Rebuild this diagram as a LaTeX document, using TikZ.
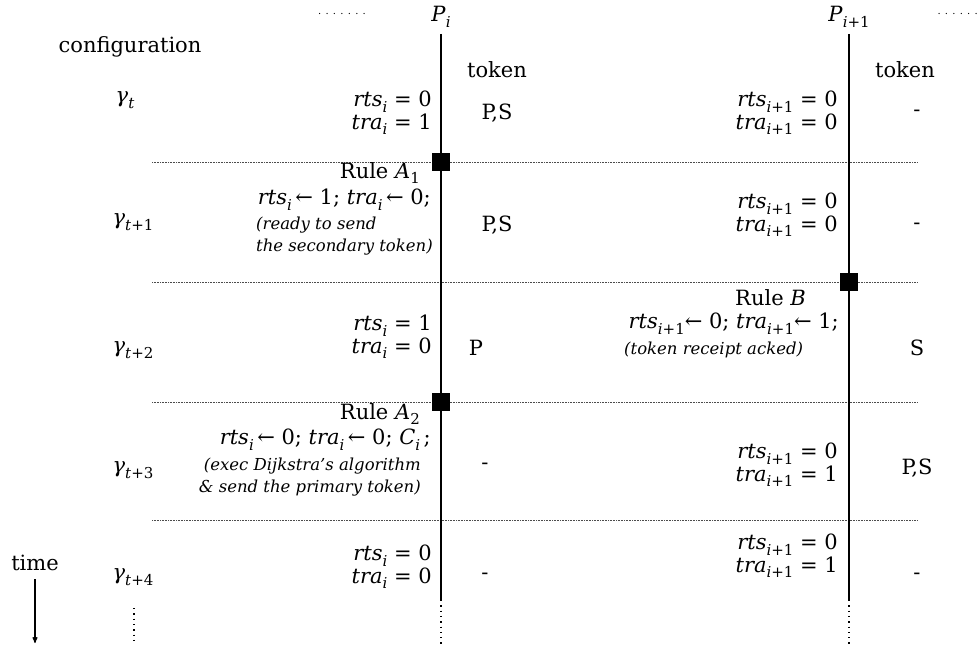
\documentclass[tikz,border=0pt]{standalone}
\usepackage{fontspec}
\setmainfont{DejaVu Serif}
\usetikzlibrary{arrows,positioning}
% subscript and variable with subscript
\newcommand{\sub}[1]{\raisebox{-0.28em}{\fontsize{15}{15}\selectfont #1}}
\newcommand{\vr}[2]{\textit{#1}\sub{#2}}
\tikzset{
    %Define standard arrow tip
    >=stealth',
    %Define style for plain text
    txt/.style={
           inner sep=0pt,
           font=\fontsize{21}{24}\selectfont},
    %Define style for variable values
    vals/.style={
           txt,
           anchor=east,
           align=right,
           font=\fontsize{21}{20}\selectfont},
    %Define style for comments
    cmt/.style={
           inner sep=0pt,
           font=\fontsize{16.5}{21.5}\selectfont\itshape},
    %Define style for rule steps
    rulebox/.style={
           rectangle,
           fill=black,
           minimum size=18pt,
           inner sep=0pt},
    %Define style for the dots beside the processes
    more/.style={
           inner sep=0pt,
           font=\fontsize{10}{12}\selectfont},
    % Define line styles
    proc/.style={line width=1.6pt},
    sep/.style={densely dotted, line width=0.6pt, black!70},
    trail/.style={line width=1.3pt, dash pattern=on 1.3pt off 4pt}
}
\begin{document}
\begin{tikzpicture}[x=1pt,y=-1pt]
\useasboundingbox (0,0) rectangle (979,648);
 %headers
\node[txt] (pi) at (441,17) {\textit{P}\sub{\textit{i}}};
\node[txt] (pj) at (849,17) {\textit{P}\sub{\textit{i}+1}};
\node[more] (dl) at (342,14) {. . . . . . .};
\node[more, anchor=east] (dr) at (978,14) {. . . . . .};
\node[txt] (conf) at (130,47) {configuration};
\node[txt] (tki) at (497,70) {token};
\node[txt] (tkj) at (905,70) {token};

 %configurations
\node[txt] (g0) at (125,100) {\textit{γ}\sub{\textit{t}}};
\node[txt] (g1) at (133,222) {\textit{γ}\sub{\textit{t}+1}};
\node[txt] (g2) at (133,350) {\textit{γ}\sub{\textit{t}+2}};
\node[txt] (g3) at (133,470) {\textit{γ}\sub{\textit{t}+3}};
\node[txt] (g4) at (133,577) {\textit{γ}\sub{\textit{t}+4}};

 %time axis
\node[txt] (time) at (35,563) {time};
\coordinate (tend) at (35,643);
\draw[->, line width=1.1pt, shorten <=8pt] (time.south) -- (tend);

 %separators
\foreach \y in {162,282,402,520}
    \draw[sep] (152,\y) -- (917,\y);

 %process lines
\coordinate (pibot) at (441,600);
\coordinate (piend) at (441,645);
\coordinate (pjbot) at (849,600);
\coordinate (pjend) at (849,645);
\coordinate (gtop) at (134,608);
\coordinate (gend) at (134,645);
\draw[proc, shorten <=6pt] (pi.south) -- (pibot);
\draw[proc, shorten <=6pt] (pj.south) -- (pjbot);
\draw[trail] (pibot) -- (piend);
\draw[trail] (pjbot) -- (pjend);
\draw[trail] (gtop) -- (gend);

 %rule steps
\node[rulebox] (ra1) at (441,162) {};
\node[rulebox] (rb) at (849,282) {};
\node[rulebox] (ra2) at (441,402) {};

 %row t
\node[vals] (v0i) at (432,113) {\vr{rts}{\textit{i}} = 0\\\vr{tra}{\textit{i}} = 1};
\node[txt] (k0i) at (497,113) {P,S};
\node[vals] (v0j) at (838,113) {\vr{rts}{\textit{i}+1} = 0\\\vr{tra}{\textit{i}+1} = 0};
\node[txt] (k0j) at (917,113) {-};

 %row t+1
\node[txt, anchor=east] (r1) at (420,173) {Rule \textit{A}\sub{1}};
\node[txt, anchor=east] (a1) at (431,200) {\vr{rts}{\textit{i}}\,← 1; \vr{tra}{\textit{i}}\,← 0;};
\node[cmt, anchor=west, align=left] (c1) at (256,236) {(ready to send\\ the secondary token)};
\node[txt] (k1i) at (497,225) {P,S};
\node[vals] (v1j) at (838,215) {\vr{rts}{\textit{i}+1} = 0\\\vr{tra}{\textit{i}+1} = 0};
\node[txt] (k1j) at (917,226) {-};

 %row t+2
\node[vals] (v2i) at (432,337) {\vr{rts}{\textit{i}} = 1\\\vr{tra}{\textit{i}} = 0};
\node[txt] (k2i) at (476,348) {P};
\node[txt, anchor=east] (rB) at (806,298) {Rule \textit{B}};
\node[txt, anchor=east] (aB) at (839,324) {\vr{rts}{\textit{i}+1}← 0; \vr{tra}{\textit{i}+1}← 1;};
\node[cmt, anchor=west] (cB) at (624,350) {(token receipt acked)};
\node[txt] (k2j) at (917,348) {S};

 %row t+3
\node[txt, anchor=east] (r2) at (420,414) {Rule \textit{A}\sub{2}};
\node[txt, anchor=east] (a2) at (431,440) {\vr{rts}{\textit{i}}\,← 0; \vr{tra}{\textit{i}}\,← 0; \vr{C}{\textit{i}}\,;};
\node[cmt, anchor=east, align=right] (c2) at (421,477) {(exec Dijkstra's algorithm\\\& send the primary token)};
\node[txt] (k3i) at (485,466) {-};
\node[vals] (v3j) at (838,465) {\vr{rts}{\textit{i}+1} = 0\\\vr{tra}{\textit{i}+1} = 1};
\node[txt] (k3j) at (917,468) {P,S};

 %row t+4
\node[vals] (v4i) at (432,567) {\vr{rts}{\textit{i}} = 0\\\vr{tra}{\textit{i}} = 0};
\node[txt] (k4i) at (485,576) {-};
\node[vals] (v4j) at (838,556) {\vr{rts}{\textit{i}+1} = 0\\\vr{tra}{\textit{i}+1} = 1};
\node[txt] (k4j) at (917,576) {-};
\end{tikzpicture}
\end{document}
